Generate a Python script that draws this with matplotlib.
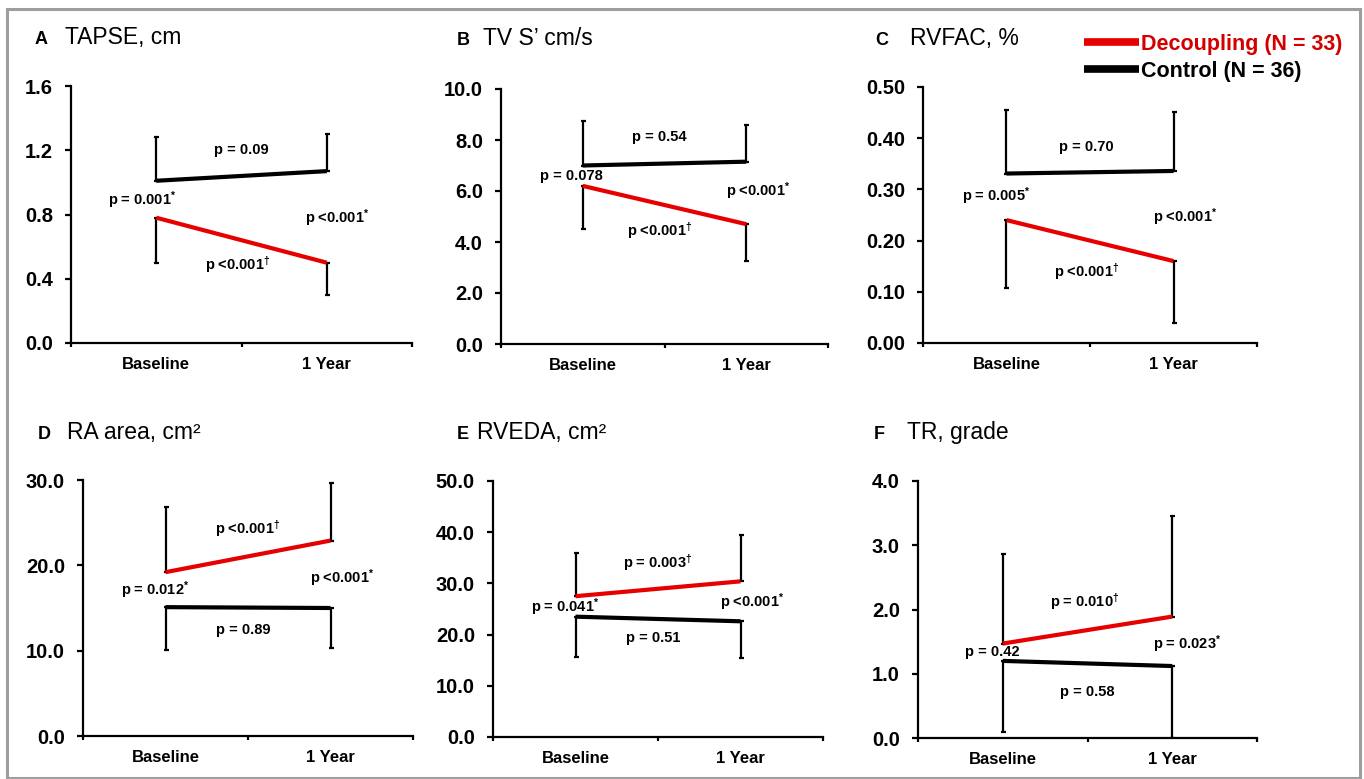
import matplotlib
matplotlib.use("Agg")
import matplotlib.pyplot as plt
from matplotlib.lines import Line2D
from matplotlib.patches import Rectangle
import numpy as np

plt.rcParams['font.family'] = ['Liberation Sans', 'DejaVu Sans']
plt.rcParams['mathtext.default'] = 'regular'

# ---------------- data ----------------
timepoints = ["Baseline", "1 Year"]
series_names = ["Decoupling (N = 33)", "Control (N = 36)"]
series_colors = ["#e60000", "#000000"]

panel_letters = ["A", "B", "C", "D", "E", "F"]
panel_titles = ["TAPSE, cm", "TV S\u2019 cm/s", "RVFAC, %", "RA area, cm\u00b2", "RVEDA, cm\u00b2", "TR, grade"]

# means
decoupling_mean = [[0.78, 0.50], [6.2, 4.7], [0.24, 0.16], [19.2, 22.9], [27.5, 30.4], [1.47, 1.89]]
control_mean = [[1.01, 1.07], [7.0, 7.15], [0.331, 0.336], [15.1, 15.0], [23.5, 22.6], [1.20, 1.12]]
# end of (one-sided) error bars
decoupling_err_end = [[0.50, 0.30], [4.5, 3.25], [0.107, 0.04], [26.8, 29.6], [35.9, 39.4], [2.86, 3.45]]
control_err_end = [[1.28, 1.30], [8.75, 8.6], [0.455, 0.452], [10.1, 10.3], [15.7, 15.5], [0.10, 0.0]]

y_max = [1.6, 10.0, 0.5, 30.0, 50.0, 4.0]
y_step = [0.4, 2.0, 0.1, 10.0, 10.0, 1.0]
y_fmt = ["{:.1f}", "{:.1f}", "{:.2f}", "{:.1f}", "{:.1f}", "{:.1f}"]

# p-value annotations: text, x (category units), y (data units)
p_texts = [
    ["p = 0.09", "p = 0.001$^{*}$", "p <0.001$^{*}$", "p <0.001$^{\u2020}$"],
    ["p = 0.54", "p = 0.078", "p <0.001$^{*}$", "p <0.001$^{\u2020}$"],
    ["p = 0.70", "p = 0.005$^{*}$", "p <0.001$^{*}$", "p <0.001$^{\u2020}$"],
    ["p <0.001$^{\u2020}$", "p = 0.012$^{*}$", "p <0.001$^{*}$", "p = 0.89"],
    ["p = 0.003$^{\u2020}$", "p = 0.041$^{*}$", "p <0.001$^{*}$", "p = 0.51"],
    ["p = 0.010$^{\u2020}$", "p = 0.42", "p = 0.023$^{*}$", "p = 0.58"],
]
p_x = [[1.00, 0.42, 1.56, 0.98], [0.97, 0.43, 1.57, 0.97], [0.98, 0.44, 1.57, 0.98],
       [1.00, 0.44, 1.57, 0.97], [1.00, 0.44, 1.57, 0.97], [0.985, 0.44, 1.59, 1.00]]
p_y = [[1.2, 0.89, 0.78, 0.49], [8.1, 6.6, 6.0, 4.45], [0.383, 0.286, 0.246, 0.139],
       [24.3, 17.1, 18.55, 12.4], [34.0, 25.4, 26.4, 19.3], [2.12, 1.34, 1.46, 0.71]]

# ---------------- layout (pixels) ----------------
W, H = 1364, 779
fig = plt.figure(figsize=(W / 100, H / 100), dpi=100)
fig.patch.set_facecolor("white")

# left, right, top, bottom of axes in pixels
ax_px = [(71, 412, 86, 343), (501, 828, 89, 344), (923, 1257, 87, 343),
         (83, 413, 480, 736), (493, 823, 481, 737), (918, 1257, 481, 738)]
letter_px = [(35, 44), (457, 45), (875, 45), (38, 439), (457, 439), (874, 439)]
title_px = [(65, 44), (483, 45), (910, 45), (67, 439), (477, 439), (907, 439)]

xpos = np.array([0.5, 1.5])
axes = []
for i in range(6):
    l, r, t, b = ax_px[i]
    ax = fig.add_axes([l / W, 1 - b / H, (r - l) / W, (b - t) / H])
    axes.append(ax)
    ax.set_xlim(0, 2)
    ax.set_ylim(0, y_max[i])
    for s in ["top", "right"]:
        ax.spines[s].set_visible(False)
    for s in ["left", "bottom"]:
        ax.spines[s].set_linewidth(1.6)
    yt = np.arange(0, y_max[i] + y_step[i] / 2, y_step[i])
    ax.set_yticks(yt)
    ax.set_yticklabels([y_fmt[i].format(v) for v in yt], fontsize=14.5, fontweight="bold")
    ax.tick_params(axis="y", length=4, width=1.6, pad=9, direction="out")
    ax.set_xticks(xpos)
    ax.set_xticklabels(timepoints, fontsize=12, fontweight="bold")
    ax.tick_params(axis="x", which="major", length=0, pad=10)
    ax.set_xticks([0, 1, 2], minor=True)
    ax.tick_params(axis="x", which="minor", length=3, width=1.6, direction="out")

    for means, ends, col in [(control_mean[i], control_err_end[i], series_colors[1]),
                             (decoupling_mean[i], decoupling_err_end[i], series_colors[0])]:
        m = np.array(means)
        e = np.array(ends)
        lower = np.clip(m - e, 0, None)
        upper = np.clip(e - m, 0, None)
        ax.errorbar(xpos, m, yerr=[lower, upper], fmt="none", ecolor="black",
                    elinewidth=1.6, capsize=1.8, capthick=1.6, zorder=2)
        ax.plot(xpos, m, color=col, lw=3.0, solid_capstyle="butt", zorder=3)

    for txt, x, y in zip(p_texts[i], p_x[i], p_y[i]):
        ax.text(x, y, txt, ha="center", va="center", fontsize=10.5, fontweight="bold")

    fig.text(letter_px[i][0] / W, 1 - letter_px[i][1] / H, panel_letters[i],
             fontsize=13, fontweight="bold", ha="left", va="baseline")
    fig.text(title_px[i][0] / W, 1 - title_px[i][1] / H, panel_titles[i],
             fontsize=16.5, ha="left", va="baseline")

# legend
handles = [Line2D([0], [0], color=c, lw=5.5, solid_capstyle="butt") for c in series_colors]
leg = axes[2].legend(handles, series_names, loc="upper left",
                     bbox_to_anchor=(1084 / W, 1 - 34 / H), bbox_transform=fig.transFigure,
                     frameon=False, prop={"size": 15.5, "weight": "bold"},
                     handlelength=2.55, handletextpad=0.12, labelspacing=0.26,
                     borderpad=0, borderaxespad=0, labelcolor=["#d40000", "black"])

# outer grey frame
fig.add_artist(Rectangle((7 / W, 1 / H), 1353 / W, 769 / H, transform=fig.transFigure,
                         fill=False, ec="#9e9e9e", lw=2.2))

fig.savefig("out.png", dpi=100, facecolor="white")
